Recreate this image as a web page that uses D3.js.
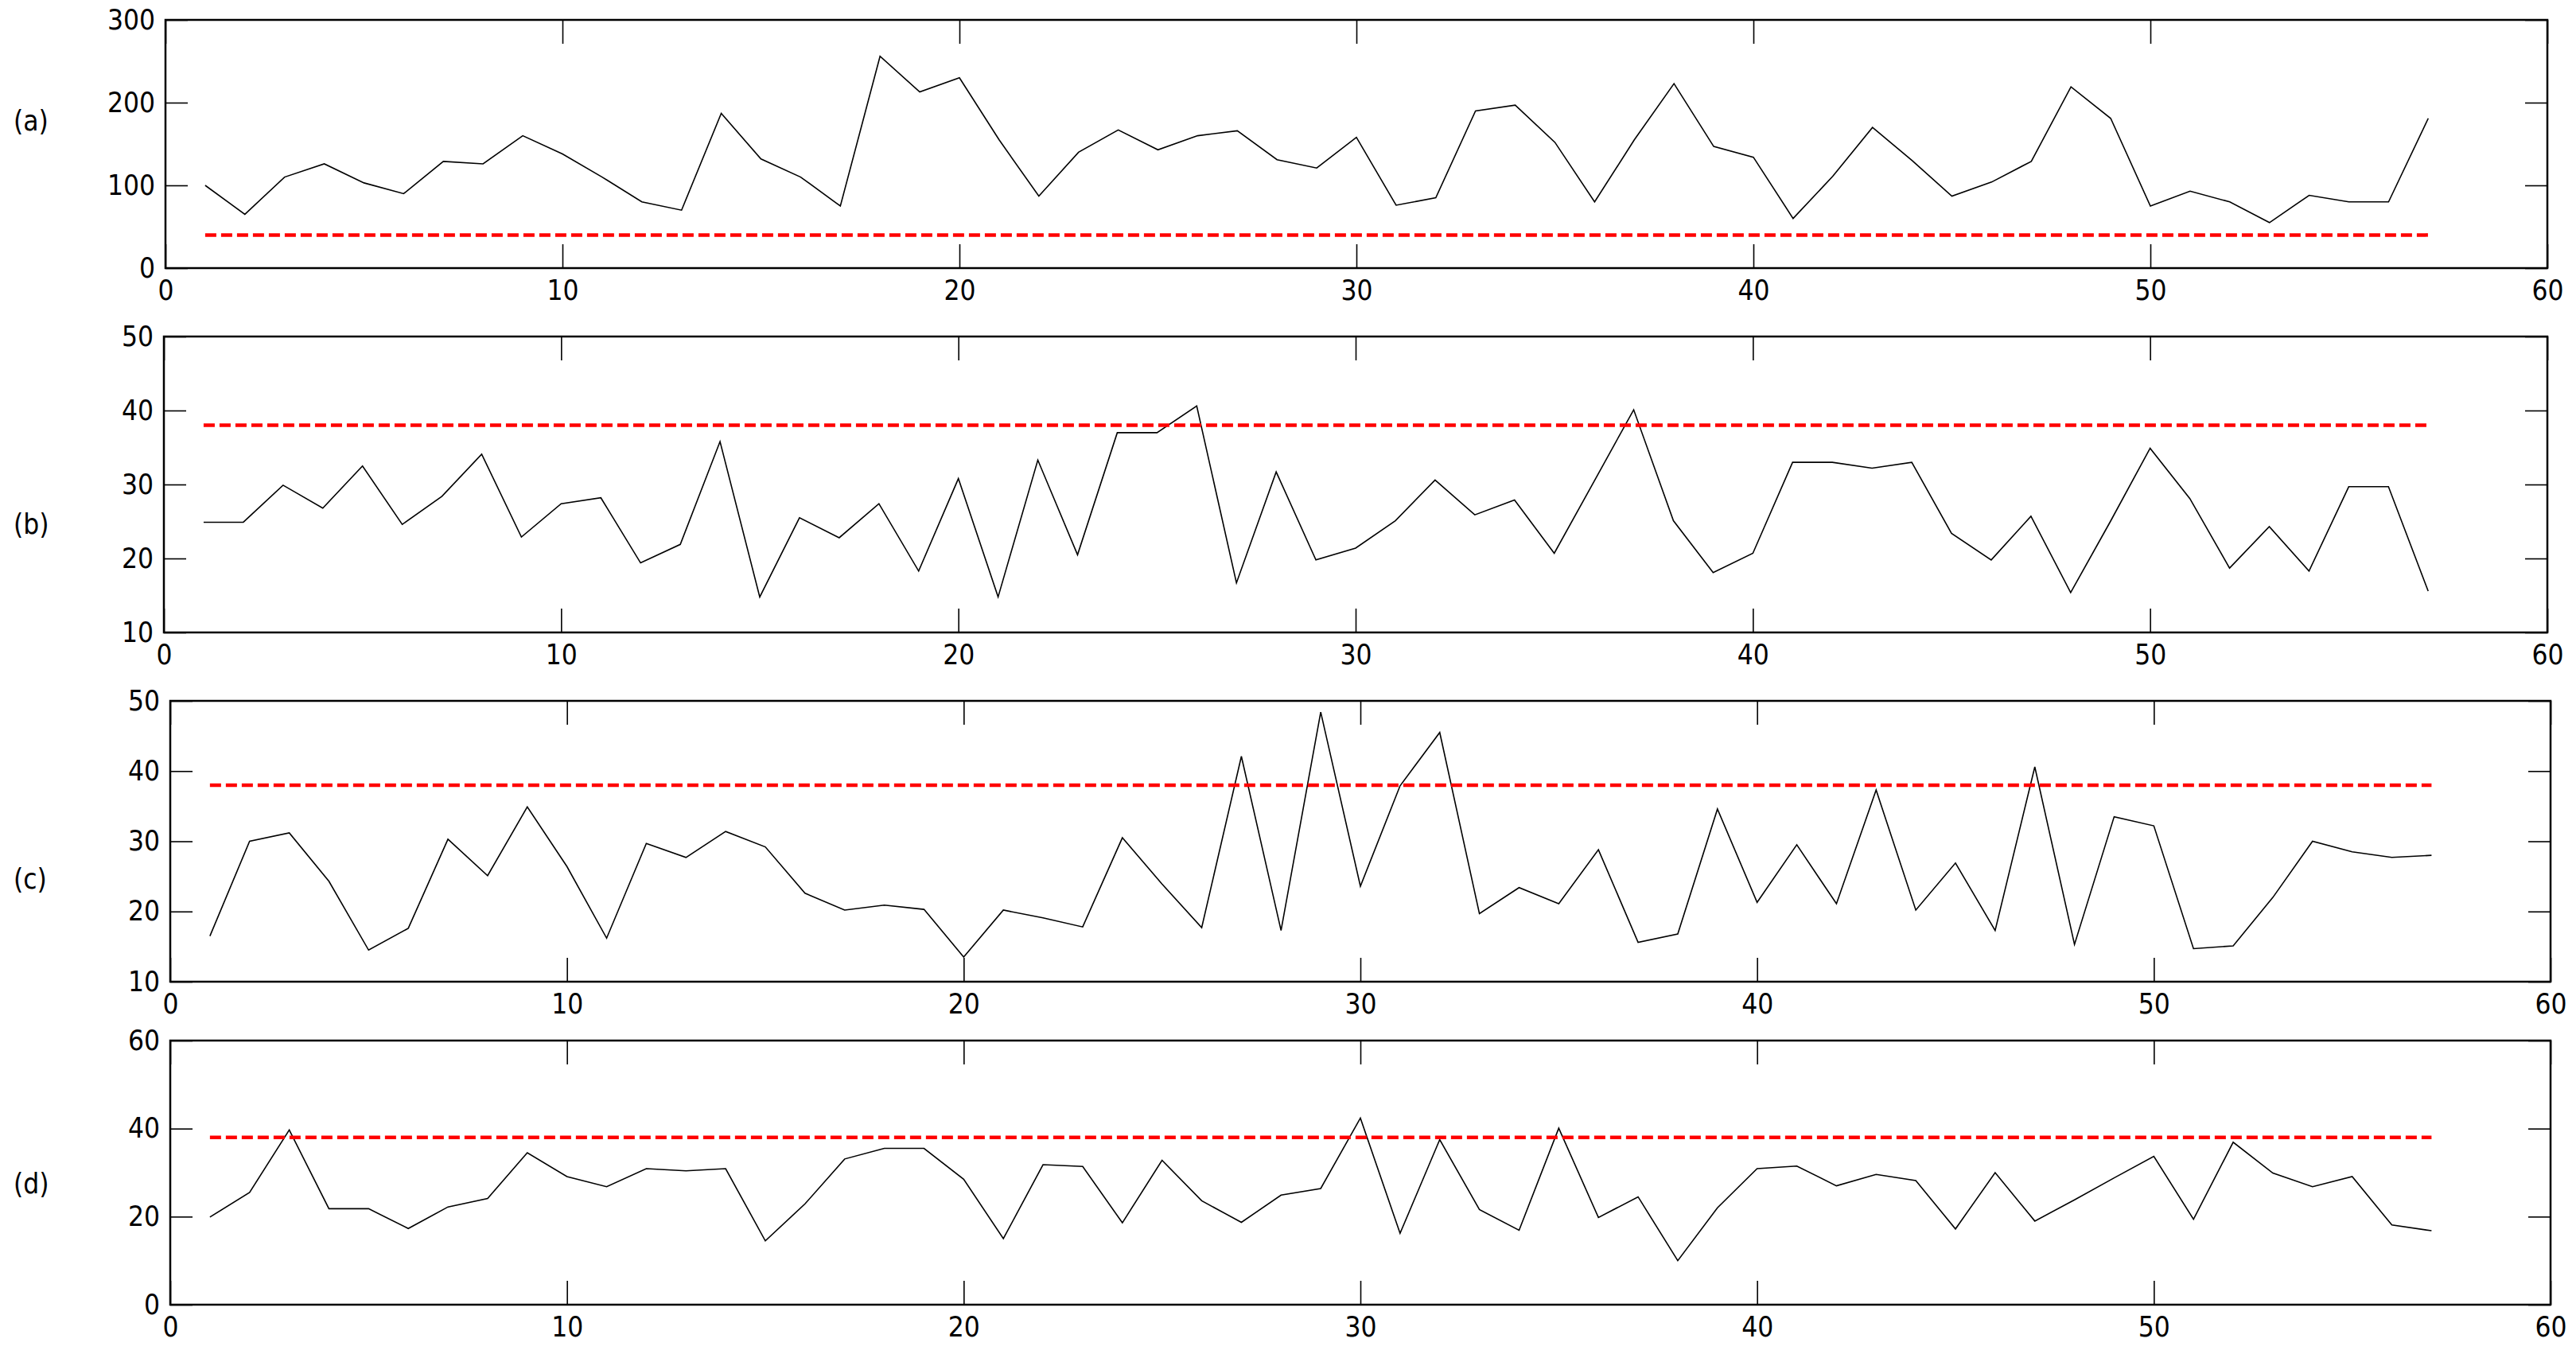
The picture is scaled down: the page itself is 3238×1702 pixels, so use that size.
<!DOCTYPE html>
<html>
<head>
<meta charset="utf-8">
<script src="https://cdn.jsdelivr.net/npm/d3@7"></script>
<style>
  body { margin: 0; background: #fff; }
  .tick text { font-family: "Liberation Sans Narrow", "DejaVu Sans Condensed", sans-serif; font-size: 35px; fill: #000; }
  .lbl { font-family: "Liberation Sans Narrow", "DejaVu Sans Condensed", sans-serif; font-size: 35px; fill: #000; }
</style>
</head>
<body>
<div id="container"></div>
<script>
/**
 * CONSTANTS AND GLOBALS
 * */
const width = 3238,
    height = 1702;

// sample index (x axis)
const sampleIdx = d3.range(1, 58);

// series values
const seriesA = [100, 65, 110, 126, 103, 90, 129, 126, 160, 138,
    110, 80, 70, 187, 132, 110, 75, 256, 213, 230,
    155, 87, 140, 167, 143, 160, 166, 131, 121, 158,
    76, 85, 190, 197, 152, 80, 155, 223, 147, 134,
    60, 111, 170, 130, 87, 104, 129, 219, 181, 75,
    93, 80, 55, 88, 80, 80, 181];

const seriesB = [24.9, 24.9, 29.9, 26.8, 32.5, 24.6, 28.4, 34.1, 22.9, 27.4,
    28.2, 19.4, 21.9, 35.8, 14.8, 25.5, 22.8, 27.4, 18.3, 30.8,
    14.8, 33.3, 20.5, 37.0, 37.0, 40.6, 16.7, 31.7, 19.8, 21.4,
    25.1, 30.6, 25.9, 27.9, 20.7, 30.4, 40.1, 25.1, 18.1, 20.7,
    33.0, 33.0, 32.2, 33.0, 23.4, 19.8, 25.7, 15.4, 25.0, 34.9,
    28.1, 18.7, 24.3, 18.3, 29.7, 29.7, 15.6];

const seriesC = [16.5, 30.0, 31.2, 24.3, 14.5, 17.6, 30.3, 25.1, 34.9, 26.4,
    16.2, 29.7, 27.7, 31.4, 29.2, 22.6, 20.2, 20.9, 20.3, 13.5,
    20.2, 19.1, 17.8, 30.5, 23.9, 17.7, 42.1, 17.3, 48.4, 23.6,
    37.9, 45.5, 19.7, 23.4, 21.1, 28.8, 15.6, 16.8, 34.6, 21.3,
    29.5, 21.1, 37.3, 20.2, 26.9, 17.3, 40.6, 15.3, 33.5, 32.2,
    14.7, 15.1, 22.0, 30.0, 28.5, 27.7, 28.0];

const seriesD = [19.9, 25.5, 39.7, 21.8, 21.8, 17.3, 22.2, 24.1, 34.5, 29.1,
    26.8, 30.9, 30.4, 30.9, 14.5, 22.9, 33.1, 35.5, 35.5, 28.5,
    15.0, 31.8, 31.4, 18.6, 32.8, 23.6, 18.7, 24.9, 26.4, 42.4,
    16.2, 37.5, 21.6, 16.9, 40.1, 19.8, 24.5, 10.0, 22.0, 30.9,
    31.5, 27.0, 29.6, 28.2, 17.2, 30.0, 19.0, 23.8, 28.8, 33.7,
    19.4, 36.9, 29.9, 26.8, 29.1, 18.1, 16.8];

const panelLabels = ["(a)", "(b)", "(c)", "(d)"];
const thresholds = [40, 38, 38, 38];
const yDomains = [[0, 300], [10, 50], [10, 50], [0, 60]];
const yTicks = [[0, 100, 200, 300], [10, 20, 30, 40, 50], [10, 20, 30, 40, 50], [0, 20, 40, 60]];
const xTicks = [0, 10, 20, 30, 40, 50, 60];

// layout of each axes box (pixels)
const boxes = [
    { left: 208, right: 3202, top: 25, bottom: 337, labelY: 152 },
    { left: 206, right: 3202, top: 423, bottom: 795, labelY: 659 },
    { left: 214, right: 3206, top: 881, bottom: 1234, labelY: 1105 },
    { left: 214, right: 3206, top: 1308, bottom: 1640, labelY: 1488 }
];

let svg;

init();

function init() {
    svg = d3.select("#container")
        .append("svg")
        .attr("width", width)
        .attr("height", height);

    svg.append("rect")
        .attr("width", width)
        .attr("height", height)
        .attr("fill", "#fff");

    const allSeries = [seriesA, seriesB, seriesC, seriesD];
    allSeries.forEach((vals, i) => drawPanel(i, vals));
}

function drawPanel(i, vals) {
    const b = boxes[i];

    const x = d3.scaleLinear().domain([0, 60]).range([b.left, b.right]);
    const y = d3.scaleLinear().domain(yDomains[i]).range([b.bottom, b.top]);

    const g = svg.append("g").attr("class", "panel");

    // ticks (inward, MATLAB style)
    g.append("g")
        .attr("transform", `translate(0,${b.bottom})`)
        .call(d3.axisBottom(x).tickValues(xTicks).tickSizeInner(-30).tickSizeOuter(0).tickPadding(15))
        .call(a => a.select(".domain").remove());

    g.append("g")
        .attr("transform", `translate(0,${b.top})`)
        .call(d3.axisTop(x).tickValues(xTicks).tickSizeInner(-30).tickSizeOuter(0).tickFormat(""))
        .call(a => a.select(".domain").remove());

    g.append("g")
        .attr("transform", `translate(${b.left},0)`)
        .call(d3.axisLeft(y).tickValues(yTicks[i]).tickSizeInner(-28).tickSizeOuter(0).tickPadding(13))
        .call(a => a.select(".domain").remove());

    g.append("g")
        .attr("transform", `translate(${b.right},0)`)
        .call(d3.axisRight(y).tickValues(yTicks[i]).tickSizeInner(-28).tickSizeOuter(0).tickFormat(""))
        .call(a => a.select(".domain").remove());

    g.selectAll(".tick line")
        .attr("stroke", "#000")
        .attr("stroke-width", 1.6);

    // data line
    const line = d3.line()
        .x((d, k) => x(sampleIdx[k]))
        .y(d => y(d));

    g.append("path")
        .datum(vals)
        .attr("d", line)
        .attr("fill", "none")
        .attr("stroke", "#000")
        .attr("stroke-width", 1.6)
        .attr("stroke-linejoin", "miter");

    // threshold
    g.append("line")
        .attr("x1", x(sampleIdx[0]))
        .attr("x2", x(sampleIdx[sampleIdx.length - 1]))
        .attr("y1", y(thresholds[i]))
        .attr("y2", y(thresholds[i]))
        .attr("stroke", "#ff0000")
        .attr("stroke-width", 4.5)
        .attr("stroke-dasharray", "14,6");

    // box
    g.append("rect")
        .attr("x", b.left)
        .attr("y", b.top)
        .attr("width", b.right - b.left)
        .attr("height", b.bottom - b.top)
        .attr("fill", "none")
        .attr("stroke", "#000")
        .attr("stroke-width", 2.5);

    g.append("text")
        .attr("class", "lbl")
        .attr("x", 17)
        .attr("y", b.labelY)
        .attr("dy", "0.35em")
        .text(panelLabels[i]);
}
</script>
</body>
</html>
